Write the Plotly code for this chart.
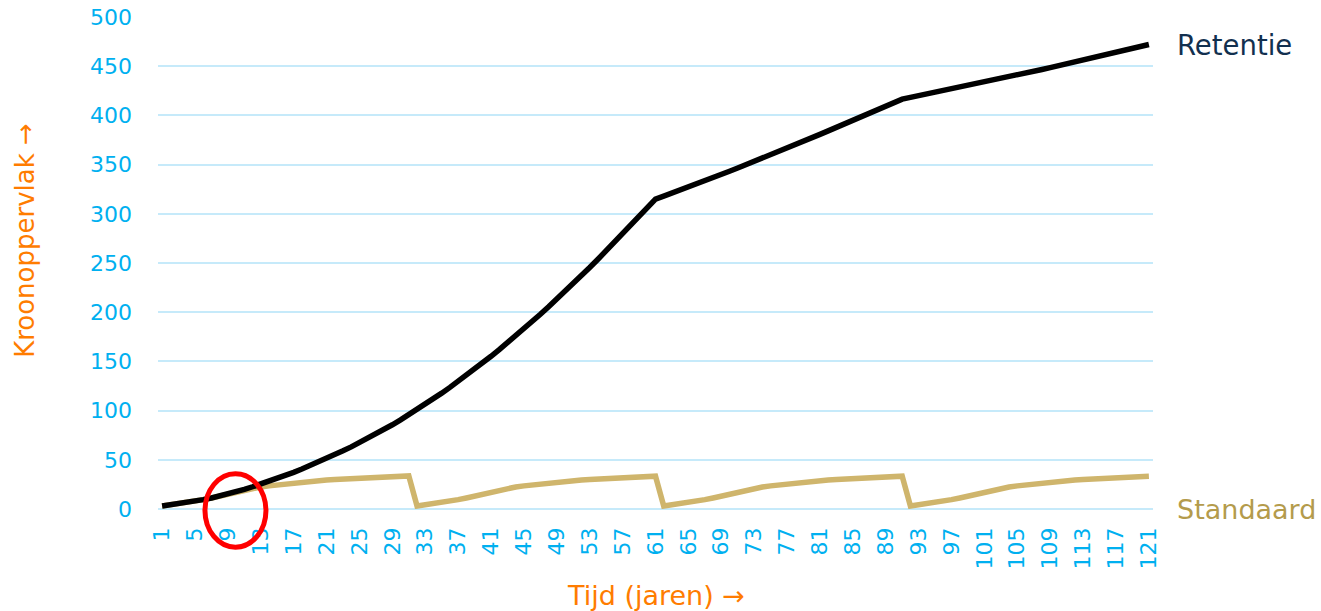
import plotly.graph_objects as go

# ---------------- data ----------------
years = list(range(1, 122))
tick_years = list(range(1, 122, 4))
tick_labels = [str(y) for y in tick_years]

retentie = [
    3.0, 4.1, 5.3, 6.6, 8.0, 9.5, 11.2, 13.1, 15.2, 17.5,
    20.0, 22.6, 25.3, 28.1, 31.0, 34.0, 37.2, 40.6, 44.1, 47.7,
    51.4, 55.2, 59.1, 63.1, 67.3, 71.6, 76.1, 80.8, 85.6, 90.6,
    95.7, 101.0, 106.4, 112.0, 117.7, 123.6, 129.6, 135.8, 142.1, 148.6,
    155.2, 162.0, 168.9, 175.9, 183.1, 190.4, 197.9, 205.5, 213.2, 221.1,
    229.1, 237.2, 245.4, 253.8, 262.3, 270.9, 279.6, 288.4, 297.2, 306.1,
    315.0, 318.0, 321.0, 324.1, 327.2, 330.3, 333.5, 336.7, 339.9, 343.2,
    346.5, 349.8, 353.1, 356.5, 359.9, 363.3, 366.7, 370.2, 373.7, 377.2,
    380.7, 384.3, 387.9, 391.5, 395.1, 398.7, 402.3, 405.9, 409.5, 413.0,
    416.5, 418.3, 420.0, 421.8, 423.5, 425.3, 427.0, 428.8, 430.5, 432.3,
    434.0, 435.8, 437.5, 439.3, 441.0, 442.8, 444.7, 446.7, 448.6, 450.6,
    452.5, 454.5, 456.4, 458.4, 460.3, 462.3, 464.2, 466.2, 468.1, 470.1,
    472.0,
]

standaard = [
    # years 1-31
    3.0, 4.1, 5.3, 6.6, 8.0, 9.5, 11.2, 13.1, 15.2, 17.5,
    20.0, 21.2, 22.4, 23.5, 24.5, 25.5, 26.4, 27.3, 28.0, 28.8,
    29.5, 30.0, 30.5, 31.0, 31.5, 31.9, 32.3, 32.7, 33.0, 33.3,
    33.6,
    # years 32-61
    3.0, 4.1, 5.3, 6.6, 8.0, 9.5, 11.2, 13.1, 15.2, 17.5,
    20.0, 21.2, 22.4, 23.5, 24.5, 25.5, 26.4, 27.3, 28.0, 28.8,
    29.5, 30.0, 30.5, 31.0, 31.5, 31.9, 32.3, 32.7, 33.0, 33.3,
    # years 62-91
    3.0, 4.1, 5.3, 6.6, 8.0, 9.5, 11.2, 13.1, 15.2, 17.5,
    20.0, 21.2, 22.4, 23.5, 24.5, 25.5, 26.4, 27.3, 28.0, 28.8,
    29.5, 30.0, 30.5, 31.0, 31.5, 31.9, 32.3, 32.7, 33.0, 33.3,
    # years 92-121
    3.0, 4.1, 5.3, 6.6, 8.0, 9.5, 11.2, 13.1, 15.2, 17.5,
    20.0, 21.2, 22.4, 23.5, 24.5, 25.5, 26.4, 27.3, 28.0, 28.8,
    29.5, 30.0, 30.5, 31.0, 31.5, 31.9, 32.3, 32.7, 33.0, 33.3,
]

series_names = ["Standaard", "Retentie"]
y_ticks = list(range(0, 501, 50))

# ---------------- style ----------------
FONT = "DejaVu Sans"
TICK_BLUE = "#00B0F0"
ORANGE = "#FF7C00"
GRID = "#C6EAFA"
TAN = "#CFB56C"
TAN_LABEL = "#B49B4C"
NAVY = "#12304F"

fig = go.Figure()
fig.add_trace(go.Scatter(x=years, y=standaard, mode="lines", name=series_names[0],
                         line=dict(color=TAN, width=5.5), showlegend=False))
fig.add_trace(go.Scatter(x=years, y=retentie, mode="lines", name=series_names[1],
                         line=dict(color="#000000", width=5.5), showlegend=False))

fig.update_layout(
    width=1321, height=611,
    margin=dict(l=158, r=168, t=17, b=102),
    paper_bgcolor="white", plot_bgcolor="white",
    font=dict(family=FONT),
    xaxis=dict(
        range=[0.5, 121.5], tickmode="array", tickvals=tick_years, ticktext=tick_labels,
        tickangle=-90, tickfont=dict(size=22, color=TICK_BLUE, family=FONT),
        showgrid=False, zeroline=False, showline=False, ticks="",
        ticklabelstandoff=13, automargin=False,
    ),
    yaxis=dict(
        range=[0, 500], tickmode="array", tickvals=y_ticks,
        tickfont=dict(size=22, color=TICK_BLUE, family=FONT),
        showgrid=True, gridcolor=GRID, gridwidth=1.5,
        zeroline=True, zerolinecolor=GRID, zerolinewidth=1.5,
        showline=False, ticks="", ticklabelstandoff=25, automargin=False,
    ),
)

# series labels at right
fig.add_annotation(x=1, xref="paper", xanchor="left", xshift=22,
                   y=retentie[-1], yref="y", yanchor="middle",
                   text=series_names[1], showarrow=False,
                   font=dict(size=27.5, color=NAVY, family=FONT))
fig.add_annotation(x=1, xref="paper", xanchor="left", xshift=22,
                   y=0, yref="y", yanchor="middle",
                   text=series_names[0], showarrow=False,
                   font=dict(size=27, color=TAN_LABEL, family=FONT))

# axis titles
fig.add_annotation(x=0.5, xref="paper", xanchor="center",
                   y=0, yref="paper", yanchor="middle", yshift=-86,
                   text="Tijd (jaren) \u2192", showarrow=False,
                   font=dict(size=27, color=ORANGE, family=FONT))
fig.add_annotation(x=0, xref="paper", xanchor="center", xshift=-133,
                   y=0.545, yref="paper", yanchor="middle",
                   text="Kroonoppervlak \u2192", textangle=-90, showarrow=False,
                   font=dict(size=26, color=ORANGE, family=FONT))

# red highlight ellipse
fig.add_shape(type="circle", xref="paper", yref="paper",
              x0=0.0472, x1=0.1085, y0=-0.0776, y1=0.0717,
              line=dict(color="#FF0000", width=5), layer="above")

fig.write_html("out.html", config={"displayModeBar": False},
               post_script="document.body.style.margin='0';document.body.style.overflow='hidden';")
